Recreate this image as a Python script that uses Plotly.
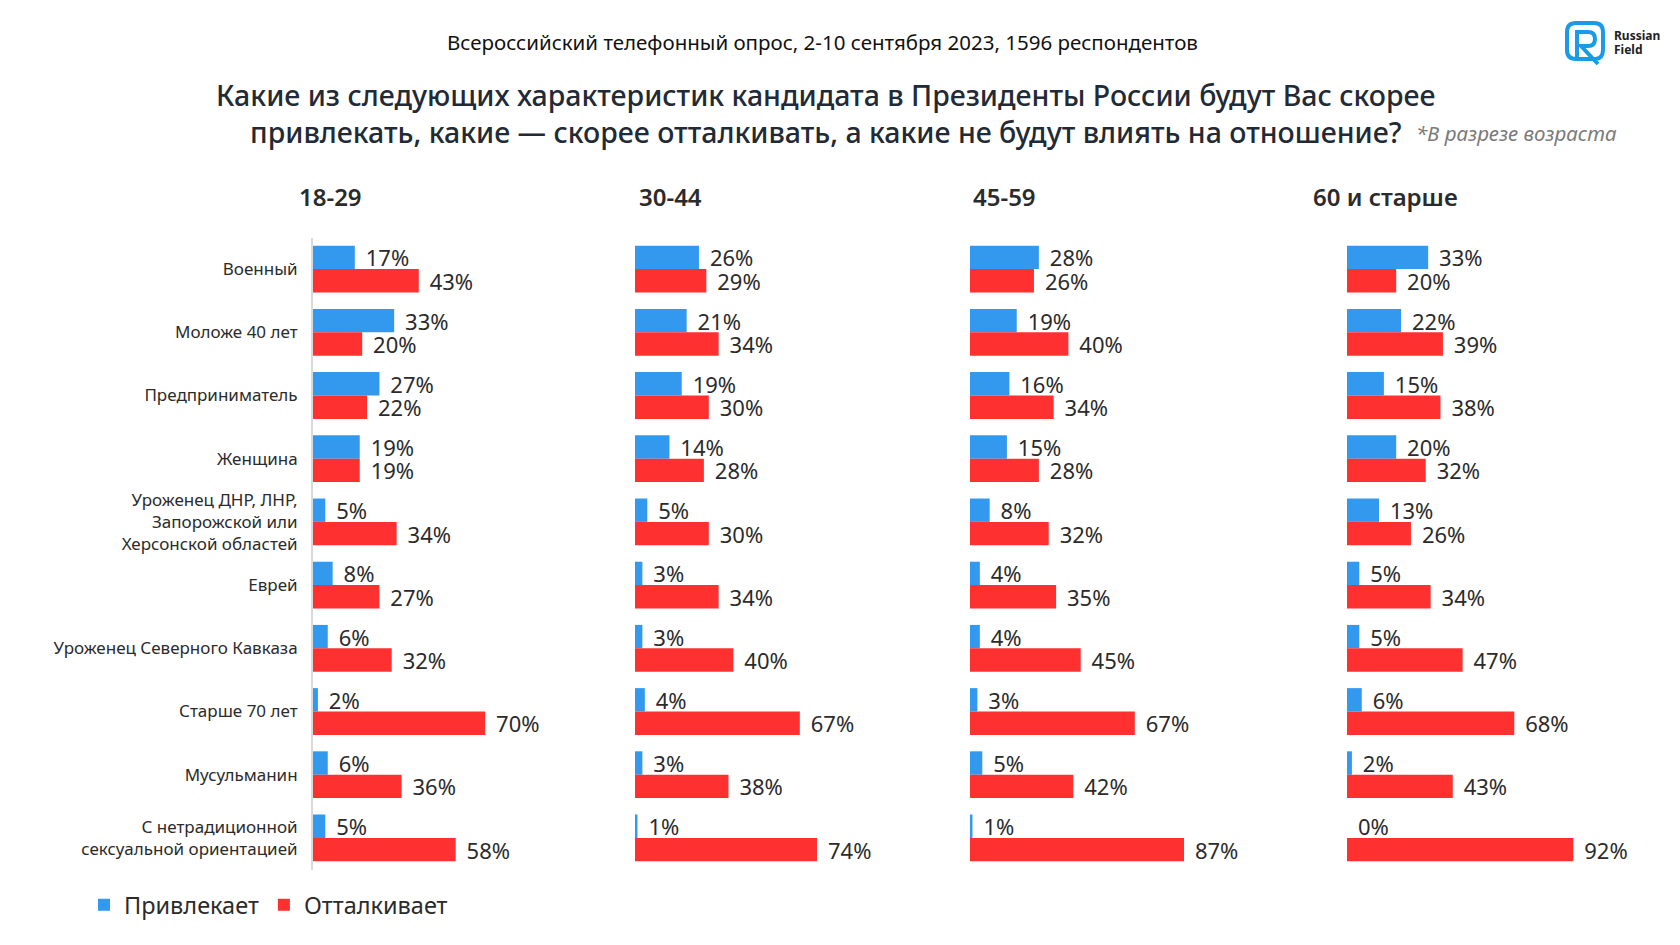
import plotly.graph_objects as go

W, H = 1680, 945

categories = [
    "Военный",
    "Моложе 40 лет",
    "Предприниматель",
    "Женщина",
    "Уроженец ДНР, ЛНР,<br>Запорожской или<br>Херсонской областей",
    "Еврей",
    "Уроженец Северного Кавказа",
    "Старше 70 лет",
    "Мусульманин",
    "С нетрадиционной<br>сексуальной ориентацией",
]
age_groups = ["18-29", "30-44", "45-59", "60 и старше"]
attract = [
    [17, 33, 27, 19, 5, 8, 6, 2, 6, 5],
    [26, 21, 19, 14, 5, 3, 3, 4, 3, 1],
    [28, 19, 16, 15, 8, 4, 4, 3, 5, 1],
    [33, 22, 15, 20, 13, 5, 5, 6, 2, 0],
]
repel = [
    [43, 20, 22, 19, 34, 27, 32, 70, 36, 58],
    [29, 34, 30, 28, 30, 34, 40, 67, 38, 74],
    [26, 40, 34, 28, 32, 35, 45, 67, 42, 87],
    [20, 39, 38, 32, 26, 34, 47, 68, 43, 92],
]
series_names = ["Привлекает", "Отталкивает"]

BLUE = "#3399ee"
RED = "#ff3030"
TXT = "#2b2b2b"
FONT = "Noto Sans"
OFF = 8  # page body margin


def px(x):
    return (x - OFF) / W


def py(y):
    return 1 - (y - OFF) / H


panel_left = [313, 635, 970, 1347]
header_left = [297, 637, 971, 1311]
panel_w = 246  # 100% -> 246 px
y_top, y_bot = 237.5, 869.5

fig = go.Figure()
for i in range(4):
    sfx = "" if i == 0 else str(i + 1)
    for vals, name, col in ((attract[i], series_names[0], BLUE), (repel[i], series_names[1], RED)):
        fig.add_trace(go.Bar(
            x=vals, y=categories, orientation="h", name=name,
            marker=dict(color=col, line=dict(width=0)),
            text=["\u00a0\u200a" + f"{v}%" for v in vals],
            textposition="outside", cliponaxis=False, constraintext="none",
            textfont=dict(family=FONT, size=22, color=TXT),
            xaxis="x" + sfx, yaxis="y" + sfx,
            showlegend=(i == 0), legendgroup=name, hoverinfo="skip",
        ))
    fig.layout["xaxis" + sfx] = dict(
        domain=[px(panel_left[i]), px(panel_left[i] + panel_w)],
        range=[0, 100], visible=False, fixedrange=True,
    )
    fig.layout["yaxis" + sfx] = dict(
        domain=[py(y_bot), py(y_top)],
        anchor="x" + sfx,
        categoryorder="array", categoryarray=categories,
        range=[len(categories) - 0.5, -0.5],
        showgrid=False, zeroline=False,
        showticklabels=(i == 0),
        showline=(i == 0), linecolor="#d9d9d9", linewidth=2,
        ticks="", ticklabelstandoff=10,
        tickfont=dict(family=FONT, size=17, color=TXT),
    )

annotations = [
    dict(text="Всероссийский телефонный опрос, 2-10 сентября 2023, 1596 респондентов",
         x=px(822), y=py(42), xanchor="center", yanchor="middle",
         font=dict(family=FONT, size=20.5, color="#111111")),
    dict(text="Какие из следующих характеристик кандидата в Президенты России будут Вас скорее<br>"
              "привлекать, какие — скорее отталкивать, а какие не будут влиять на отношение?",
         x=px(826), y=py(114), xanchor="center", yanchor="middle", align="center",
         font=dict(family=FONT, size=28.5, color="#222a35", weight=500)),
    dict(text="<i>*В разрезе возраста</i>",
         x=px(1414), y=py(133), xanchor="left", yanchor="middle",
         font=dict(family=FONT, size=20.5, color="#7a7a7a")),
    dict(text="<b>Russian</b>", x=px(1612), y=py(35), xanchor="left", yanchor="middle",
         font=dict(family=FONT, size=12, color="#222222")),
    dict(text="<b>Field</b>", x=px(1612), y=py(50), xanchor="left", yanchor="middle",
         font=dict(family=FONT, size=12, color="#222222")),
]
for i, g in enumerate(age_groups):
    annotations.append(dict(
        text=g, x=px(header_left[i]), y=py(197), xanchor="left", yanchor="middle",
        font=dict(family=FONT, size=24, color=TXT, weight=600)))
for a in annotations:
    a.update(xref="paper", yref="paper", showarrow=False)


def path(points):
    out = []
    for cmd, *pts in points:
        coords = " ".join(f"{px(pts[k]):.5f},{py(pts[k+1]):.5f}" for k in range(0, len(pts), 2))
        out.append(cmd + coords)
    return " ".join(out)


logo_outer = path([
    ("M", 1576, 23), ("L", 1594, 23), ("Q", 1603, 23, 1603, 32), ("L", 1603, 50),
    ("Q", 1603, 58, 1596, 59), ("L", 1576, 59), ("Q", 1567, 59, 1567, 50),
    ("L", 1567, 32), ("Q", 1567, 23, 1576, 23), ("Z",),
])
logo_r = path([
    ("M", 1577, 58), ("L", 1577, 32), ("L", 1588, 32), ("Q", 1595, 32, 1595, 39),
    ("Q", 1595, 46, 1588, 46), ("L", 1581, 46), ("L", 1598, 64),
])
shapes = [
    dict(type="path", path=logo_outer, xref="paper", yref="paper",
         line=dict(color="#1a9be8", width=4)),
    dict(type="path", path=logo_r, xref="paper", yref="paper",
         line=dict(color="#1a9be8", width=4)),
]

fig.update_layout(
    width=W, height=H,
    margin=dict(l=0, r=0, t=0, b=0),
    paper_bgcolor="white", plot_bgcolor="white",
    barmode="group", bargap=0.26, bargroupgap=0,
    annotations=annotations, shapes=shapes,
    legend=dict(orientation="h", x=px(84), y=py(905), xanchor="left", yanchor="middle",
                font=dict(family=FONT, size=23.5, color=TXT), traceorder="normal",
                itemclick=False, itemdoubleclick=False),
    font=dict(family=FONT, color=TXT),
)

fig.write_html("out.html", config={"displayModeBar": False})
